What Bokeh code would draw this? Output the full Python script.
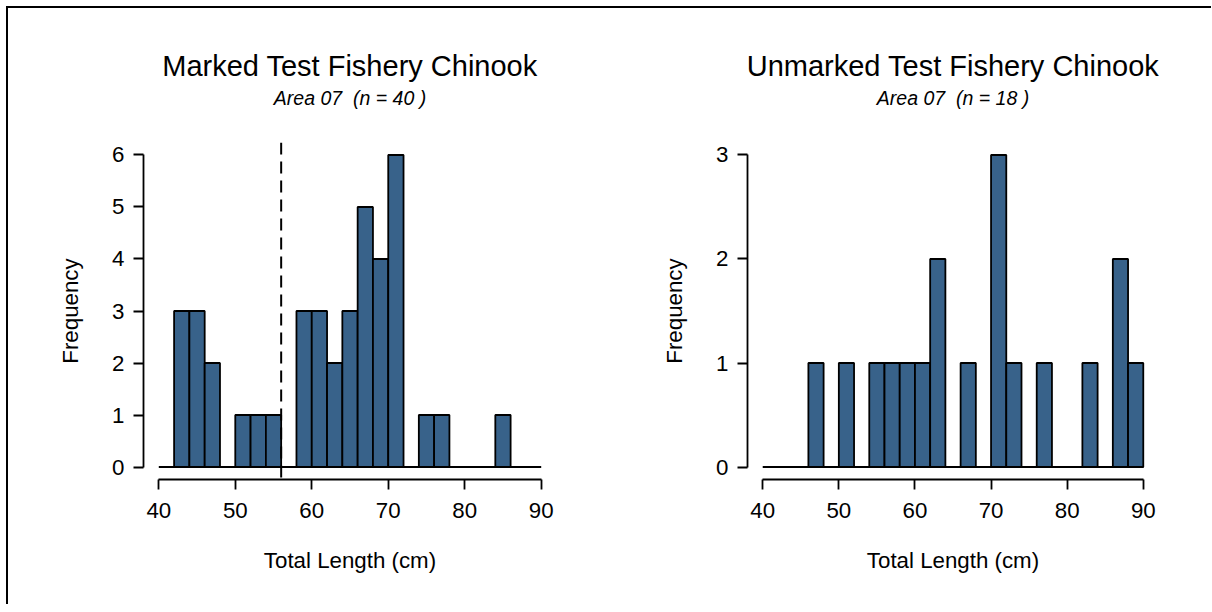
from bokeh.plotting import figure
from bokeh.models import Title, Span, FixedTicker, ColumnDataSource, LinearAxis
from bokeh.layouts import row
from bokeh.embed import file_html
from bokeh.resources import INLINE

# ---- data ----
BIN_WIDTH = 2
X_MIN, X_MAX = 40, 90
x_ticks = [40, 50, 60, 70, 80, 90]

marked_left = [42, 44, 46, 50, 52, 54, 58, 60, 62, 64, 66, 68, 70, 74, 76, 84]
marked_counts = [3, 3, 2, 1, 1, 1, 3, 3, 2, 3, 5, 4, 6, 1, 1, 1]
marked_yticks = [0, 1, 2, 3, 4, 5, 6]
marked_cutoff = 56

unmarked_left = [46, 50, 54, 56, 58, 60, 62, 66, 70, 72, 76, 82, 86, 88]
unmarked_counts = [1, 1, 1, 1, 1, 1, 2, 1, 3, 1, 1, 1, 2, 1]
unmarked_yticks = [0, 1, 2, 3]

titles = ["Marked Test Fishery Chinook", "Unmarked Test Fishery Chinook"]
subtitles = ["Area 07 \u00a0(n = 40 )", "Area 07 \u00a0(n = 18 )"]
x_label = "Total Length (cm)"
y_label = "Frequency"

# ---- styles ----
FONT = "Liberation Sans"
BAR_COLOR = "#38628A"
AXIS_FS = "22.3px"
FIG_H = 596
MB_TOP, MB_BOTTOM = 134, 125
SUBTITLE_GAP = 34


def make_panel(lefts, counts, yticks, title, subtitle, width, mb_left, mb_right, cutoff=None):
    ymax = max(yticks)
    xpad = 0.04 * (X_MAX - X_MIN)
    ypad = 0.04 * ymax
    p = figure(width=width, height=FIG_H, output_backend="svg", toolbar_location=None,
               x_range=(X_MIN - xpad, X_MAX + xpad), y_range=(-ypad, ymax + ypad),
               min_border_left=mb_left, min_border_right=mb_right,
               min_border_top=MB_TOP, min_border_bottom=MB_BOTTOM)
    p.title.visible = False

    # invisible spacer between plot region and subtitle (white tick on white, no label)
    spacer = LinearAxis(ticker=FixedTicker(ticks=[X_MIN]), axis_line_color=None,
                        major_tick_line_color="white", minor_tick_line_color=None,
                        major_tick_in=0, major_tick_out=SUBTITLE_GAP, minor_tick_out=0,
                        major_label_standoff=0, major_label_text_color=None,
                        major_label_text_font_size="0px")
    p.add_layout(spacer, "above")
    p.add_layout(Title(text=subtitle, align="center", text_font=FONT, text_font_style="italic",
                       text_font_size="19.5px", text_color="black", standoff=0), "above")
    p.add_layout(Title(text=title, align="center", text_font=FONT, text_font_style="normal",
                       text_font_size="29px", text_color="black", standoff=6), "above")

    p.background_fill_color = "white"
    p.border_fill_color = "white"
    p.outline_line_color = None
    p.grid.visible = False

    # baseline
    p.segment(x0=[X_MIN], x1=[X_MAX], y0=[0], y1=[0], line_color="black", line_width=1.8)

    src = ColumnDataSource(dict(left=lefts, right=[l + BIN_WIDTH for l in lefts],
                                top=counts, bottom=[0] * len(counts)))
    p.quad(left="left", right="right", top="top", bottom="bottom", source=src,
           fill_color=BAR_COLOR, line_color="black", line_width=1.8)

    if cutoff is not None:
        p.add_layout(Span(location=cutoff, dimension="height", line_color="black",
                          line_width=2, line_dash="12 7"))

    xa = p.below[0]
    ya = p.left[0]
    for ax in (xa, ya):
        ax.axis_line_width = 1.8
        ax.major_tick_line_width = 1.8
        ax.major_tick_in = 0
        ax.major_tick_out = 10
        ax.minor_tick_line_color = None
        ax.major_label_text_font = FONT
        ax.major_label_text_font_size = AXIS_FS
        ax.major_label_text_color = "black"
        ax.axis_label_text_font = FONT
        ax.axis_label_text_font_size = AXIS_FS
        ax.axis_label_text_font_style = "normal"
        ax.axis_label_text_color = "black"

    xa.ticker = FixedTicker(ticks=x_ticks)
    xa.bounds = (X_MIN, X_MAX)
    xa.axis_label = x_label
    xa.major_label_standoff = 13
    xa.axis_label_standoff = 27

    ya.ticker = FixedTicker(ticks=yticks)
    ya.bounds = (0, ymax)
    ya.axis_label = y_label
    ya.major_label_standoff = 9
    ya.axis_label_standoff = 26
    ya.major_label_orientation = "horizontal"
    return p


p1 = make_panel(marked_left, marked_counts, marked_yticks, titles[0], subtitles[0],
                598, 135, 50, cutoff=marked_cutoff)
p2 = make_panel(unmarked_left, unmarked_counts, unmarked_yticks, titles[1], subtitles[1],
                605, 141, 53)

layout = row(p1, p2, stylesheets=[
    ":host { margin: 6px 0 0 6px; box-sizing: content-box; "
    "border-top: 2.5px solid black; border-left: 2.5px solid black; }"
])

open("out.html", "w").write(file_html(layout, INLINE))
